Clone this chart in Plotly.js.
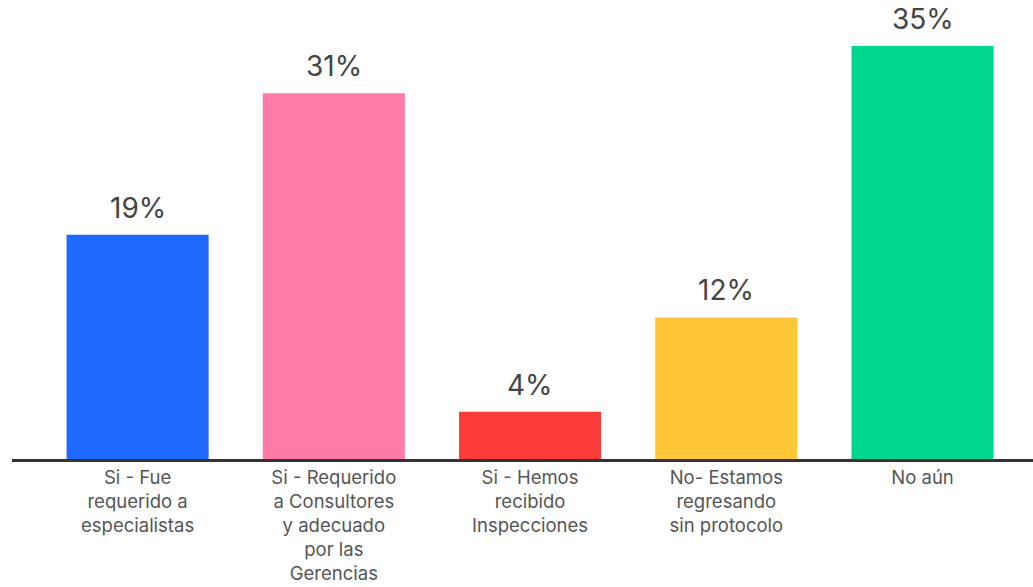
<!DOCTYPE html>
<html>
<head>
<meta charset="utf-8">
<script src="https://cdn.plot.ly/plotly-3.0.1.min.js"></script>
<style>html,body{margin:0;padding:0;background:#fff;}#chart{width:1033px;height:587px;}</style>
</head>
<body>
<div id="chart"></div>
<script>
const categories = [
  "Si - Fue<br>requerido a<br>especialistas",
  "Si - Requerido<br>a Consultores<br>y adecuado<br>por las<br>Gerencias",
  "Si - Hemos<br>recibido<br>Inspecciones",
  "No- Estamos<br>regresando<br>sin protocolo",
  "No aún"
];
const values = [19, 31, 4, 12, 35];
const valueLabels = ["19%", "31%", "4%", "12%", "35%"];
const colors = ["#1e69ff", "#ff7ba9", "#ff3c3c", "#ffc637", "#00d690"];

const trace = {
  type: "bar",
  x: categories,
  y: values,
  marker: {color: colors, line: {width: 0}},
  hoverinfo: "skip"
};

const annotations = categories.map((c, i) => ({
  x: c, y: values[i], xref: "x", yref: "y",
  text: valueLabels[i], showarrow: false,
  yanchor: "bottom", yshift: 8,
  font: {family: "Inter, 'Open Sans', sans-serif", size: 28, color: "#444"}
}));

const layout = {
  width: 1033, height: 587,
  margin: {l: 12, r: 0, t: 0, b: 128},
  paper_bgcolor: "#fff", plot_bgcolor: "#fff",
  bargap: 0.276,
  showlegend: false,
  xaxis: {
    type: "category",
    range: [-0.64, 4.563],
    showline: true, linecolor: "#333", linewidth: 3,
    ticks: "", showgrid: false, zeroline: false,
    tickfont: {family: "Inter, 'Open Sans', sans-serif", size: 18.5, color: "#555"},
    fixedrange: true
  },
  yaxis: {
    range: [0, 38.9],
    visible: false, showgrid: false, zeroline: false, fixedrange: true
  },
  annotations: annotations
};

Plotly.newPlot("chart", [trace], layout, {displayModeBar: false, staticPlot: true});
</script>
</body>
</html>
